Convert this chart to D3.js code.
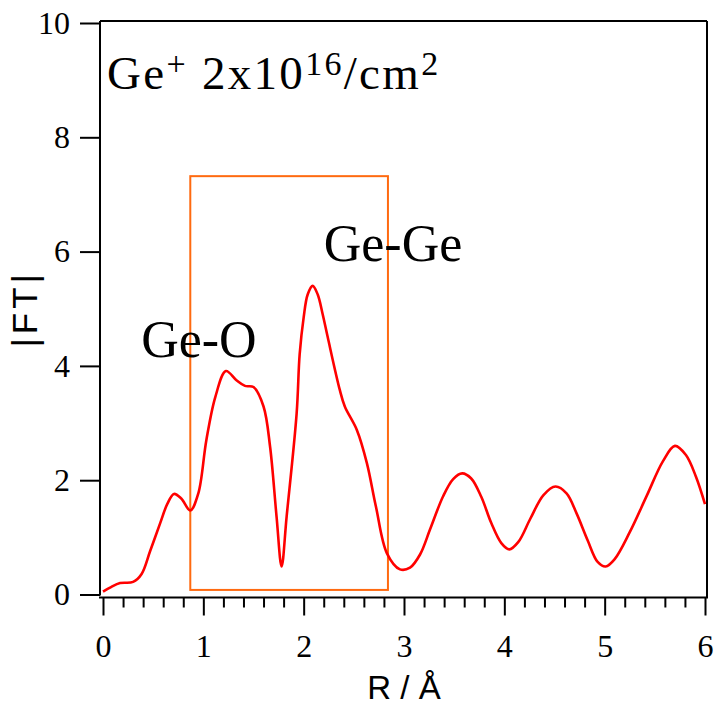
<!DOCTYPE html>
<html>
<head>
<meta charset="utf-8">
<script src="https://cdn.jsdelivr.net/npm/d3@7"></script>
<style>
  html, body { margin: 0; padding: 0; background: #fff; }
  svg { display: block; }
</style>
</head>
<body>
<svg id="chart" width="717" height="706"></svg>
<script>
// ---- data ----
const rValues = [0, 0.08, 0.17, 0.3, 0.385, 0.47, 0.57, 0.64, 0.707, 0.78, 0.87, 0.95, 1.03, 1.12, 1.225, 1.33, 1.415, 1.5, 1.6, 1.665, 1.73, 1.78, 1.83, 1.93, 1.96, 2.0, 2.04, 2.09, 2.14, 2.19, 2.24, 2.36, 2.41, 2.53, 2.63, 2.72, 2.83, 2.96, 3.06, 3.16, 3.26, 3.39, 3.49, 3.58, 3.67, 3.77, 3.87, 3.97, 4.05, 4.14, 4.26, 4.39, 4.51, 4.62, 4.72, 4.83, 4.93, 5.01, 5.10, 5.25, 5.42, 5.58, 5.70, 5.81, 5.91, 6.0];
const ftValues = [0.05, 0.13, 0.2, 0.22, 0.36, 0.76, 1.25, 1.58, 1.76, 1.68, 1.47, 1.77, 2.70, 3.46, 3.91, 3.75, 3.65, 3.63, 3.29, 2.59, 1.36, 0.49, 1.36, 3.17, 4.2, 4.85, 5.25, 5.40, 5.25, 4.9, 4.5, 3.58, 3.29, 2.88, 2.30, 1.54, 0.72, 0.44, 0.47, 0.70, 1.14, 1.72, 2.02, 2.12, 2.03, 1.71, 1.25, 0.90, 0.79, 0.92, 1.33, 1.74, 1.89, 1.77, 1.42, 0.95, 0.57, 0.49, 0.62, 1.09, 1.73, 2.33, 2.60, 2.44, 2.06, 1.58];
const xTicks = [0, 1, 2, 3, 4, 5, 6];
const xMinorTicks = [0.2,0.4,0.6,0.8,1.2,1.4,1.6,1.8,2.2,2.4,2.6,2.8,3.2,3.4,3.6,3.8,4.2,4.4,4.6,4.8,5.2,5.4,5.6,5.8];
const yTicks = [0, 2, 4, 6, 8, 10];
const boxR = [0.87, 2.84];
const boxFT = [0.08, 7.32];
const xLabel = "R / Å";
const yLabel = "|FT|";
const peakLabels = [
  { text: "Ge-O", r: 0.38, ft: 4.16 },
  { text: "Ge-Ge", r: 2.2, ft: 5.83 }
];

// ---- chart ----
(function () {
const svg = d3.select("#chart");
const x = d3.scaleLinear().domain([0, 6]).range([103, 705]);
const y = d3.scaleLinear().domain([0, 10]).range([594.5, 23]);

const serif = "'Liberation Serif','Times New Roman',Times,serif";
const sans = "'Liberation Sans',Arial,Helvetica,sans-serif";

// orange box
svg.append("rect")
  .attr("x", x(boxR[0])).attr("y", y(boxFT[1]))
  .attr("width", x(boxR[1]) - x(boxR[0]))
  .attr("height", y(boxFT[0]) - y(boxFT[1]))
  .attr("fill", "none").attr("stroke", "#ff6a10").attr("stroke-width", 2);

// curve
const pts = rValues.map((r, i) => [r, ftValues[i]]);
svg.append("path")
  .datum(pts)
  .attr("fill", "none")
  .attr("stroke", "#ff0000")
  .attr("stroke-width", 2.6)
  .attr("stroke-linejoin", "round")
  .attr("d", d3.line().x(d => x(d[0])).y(d => y(d[1])).curve(d3.curveCatmullRom.alpha(0.5)));

// frame
const fLeft = x(0) - 3, fRight = x(6) + 2, fTop = y(10) - 2, fBottom = y(0) + 3;
const frame = svg.append("g").attr("stroke", "#000").attr("stroke-width", 2).attr("fill", "none");
frame.append("line").attr("x1", fLeft).attr("x2", fRight).attr("y1", fTop).attr("y2", fTop);
frame.append("line").attr("x1", fRight).attr("x2", fRight).attr("y1", fTop).attr("y2", fBottom);
frame.append("line").attr("x1", fLeft).attr("x2", fLeft).attr("y1", fTop).attr("y2", y(0) + 1);
frame.append("line").attr("x1", fLeft - 1).attr("x2", fRight + 1).attr("y1", fBottom).attr("y2", fBottom);

// y axis
const yAxis = svg.append("g").attr("transform", `translate(${fLeft},0)`)
  .call(d3.axisLeft(y).tickValues(yTicks).tickSize(20).tickPadding(10).tickFormat(d3.format("d")));
yAxis.select(".domain").remove();
yAxis.selectAll(".tick line").attr("stroke-width", 2);
yAxis.selectAll("text").attr("font-family", serif).attr("font-size", 32).attr("fill", "#000");

// x axis
const xAxis = svg.append("g").attr("transform", `translate(0,${fBottom})`)
  .call(d3.axisBottom(x).tickValues(xTicks).tickSize(18).tickPadding(19).tickFormat(d3.format("d")));
xAxis.select(".domain").remove();
xAxis.selectAll(".tick line").attr("stroke-width", 2);
xAxis.selectAll("text").attr("font-family", serif).attr("font-size", 32).attr("fill", "#000");

const xMinor = svg.append("g").attr("transform", `translate(0,${fBottom})`)
  .call(d3.axisBottom(x).tickValues(xMinorTicks).tickSize(10).tickFormat(""));
xMinor.select(".domain").remove();
xMinor.selectAll(".tick line").attr("stroke-width", 2);

// axis titles
svg.append("text")
  .attr("x", (x(0) + x(6)) / 2).attr("y", 699)
  .attr("text-anchor", "middle")
  .attr("font-family", sans).attr("font-size", 33).attr("fill", "#000")
  .text(xLabel);
svg.append("text")
  .attr("transform", `translate(37,${(y(0) + y(10)) / 2}) rotate(-90)`)
  .attr("text-anchor", "middle")
  .attr("font-family", sans).attr("font-size", 35).attr("letter-spacing", 4).attr("fill", "#000")
  .text(yLabel);

// title
const title = svg.append("text")
  .attr("x", 107).attr("y", 89)
  .attr("font-family", serif).attr("font-size", 47).attr("letter-spacing", 2.3).attr("fill", "#000");
title.append("tspan").text("Ge");
title.append("tspan").attr("font-size", 34).attr("dy", -14).text("+");
title.append("tspan").attr("dy", 14).text(" 2x10");
title.append("tspan").attr("font-size", 34).attr("dy", -14).text("16");
title.append("tspan").attr("dy", 14).text("/cm");
title.append("tspan").attr("font-size", 34).attr("dy", -14).text("2");

// peak labels
svg.selectAll(".peak").data(peakLabels).enter().append("text")
  .attr("class", "peak")
  .attr("x", d => x(d.r)).attr("y", d => y(d.ft))
  .attr("font-family", serif).attr("font-size", 52).attr("fill", "#000")
  .text(d => d.text);
})();
</script>
</body>
</html>
